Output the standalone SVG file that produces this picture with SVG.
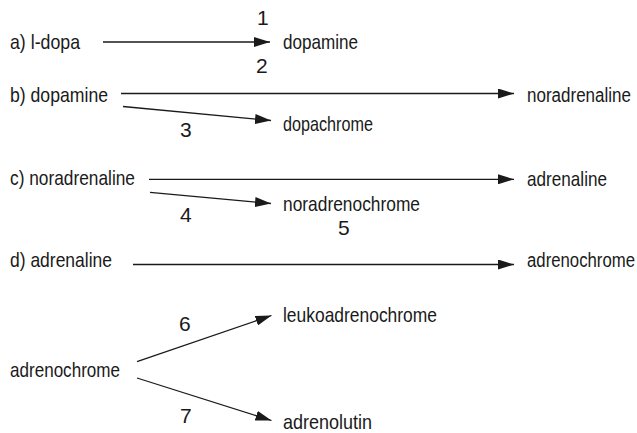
<svg xmlns="http://www.w3.org/2000/svg" width="637" height="433" viewBox="0 0 637 433">
<style>
text{font-family:"Liberation Sans",Arial,sans-serif;font-size:21px;fill:#1a1a1a}
.c line{stroke:#1a1a1a;stroke-width:1.3;fill:none}
.c .a{marker-end:url(#ah)}
</style>
<defs>
<marker id="ah" markerUnits="userSpaceOnUse" markerWidth="16" markerHeight="10" refX="16" refY="5" orient="auto">
<path d="M0,0 L16,5 L0,10 Z" fill="#1a1a1a"/>
</marker>
</defs>
<rect width="637" height="433" fill="#fff"/>
<g class="c" id="connectors">
<line class="a" x1="103" y1="42" x2="270" y2="42"/>
<line class="a" x1="121" y1="93.5" x2="514" y2="93.5"/>
<line class="a" x1="123" y1="106.5" x2="271" y2="120.5"/>
<line class="a" x1="149" y1="179.3" x2="514" y2="179.3"/>
<line class="a" x1="150" y1="192.3" x2="271" y2="203.5"/>
<line class="a" x1="133" y1="264.5" x2="514" y2="264.5"/>
<line class="a" x1="137" y1="361.7" x2="271.5" y2="315.5"/>
<line class="a" x1="137" y1="378" x2="271.5" y2="420.5"/>
</g>
<g id="labels">
<text x="257" y="25">1</text>
<text x="256" y="72.5">2</text>
<text x="180" y="137">3</text>
<text x="180" y="221.5">4</text>
<text x="338" y="235">5</text>
<text x="179" y="331">6</text>
<text x="180" y="423">7</text>
</g>
<g id="n-a-ldopa"><text x="10" y="49" textLength="70" lengthAdjust="spacingAndGlyphs">a) l-dopa</text></g>
<g id="n-a-dopamine"><text x="283" y="48.5" textLength="75" lengthAdjust="spacingAndGlyphs">dopamine</text></g>
<g id="n-b-dopamine"><text x="10" y="101.5" textLength="98" lengthAdjust="spacingAndGlyphs">b) dopamine</text></g>
<g id="n-b-noradrenaline"><text transform="translate(527,102) scale(0.78,1)" x="0" y="0" textLength="133.3" lengthAdjust="spacingAndGlyphs">noradrenaline</text></g>
<g id="n-b-dopachrome"><text x="283" y="130.5" textLength="90" lengthAdjust="spacingAndGlyphs">dopachrome</text></g>
<g id="n-c-noradrenaline"><text x="10" y="185" textLength="125" lengthAdjust="spacingAndGlyphs">c) noradrenaline</text></g>
<g id="n-c-adrenaline"><text x="527" y="186" textLength="80" lengthAdjust="spacingAndGlyphs">adrenaline</text></g>
<g id="n-c-noradrenochrome"><text x="283" y="211" textLength="137" lengthAdjust="spacingAndGlyphs">noradrenochrome</text></g>
<g id="n-d-adrenaline"><text x="10" y="267" textLength="102" lengthAdjust="spacingAndGlyphs">d) adrenaline</text></g>
<g id="n-d-adrenochrome"><text transform="translate(527,267) scale(0.78,1)" x="0" y="0" textLength="138.5" lengthAdjust="spacingAndGlyphs">adrenochrome</text></g>
<g id="n-e-adrenochrome"><text x="10" y="377" textLength="110" lengthAdjust="spacingAndGlyphs">adrenochrome</text></g>
<g id="n-e-leukoadrenochrome"><text x="283" y="322" textLength="154" lengthAdjust="spacingAndGlyphs">leukoadrenochrome</text></g>
<g id="n-e-adrenolutin"><text x="283" y="429" textLength="89" lengthAdjust="spacingAndGlyphs">adrenolutin</text></g>
</svg>
